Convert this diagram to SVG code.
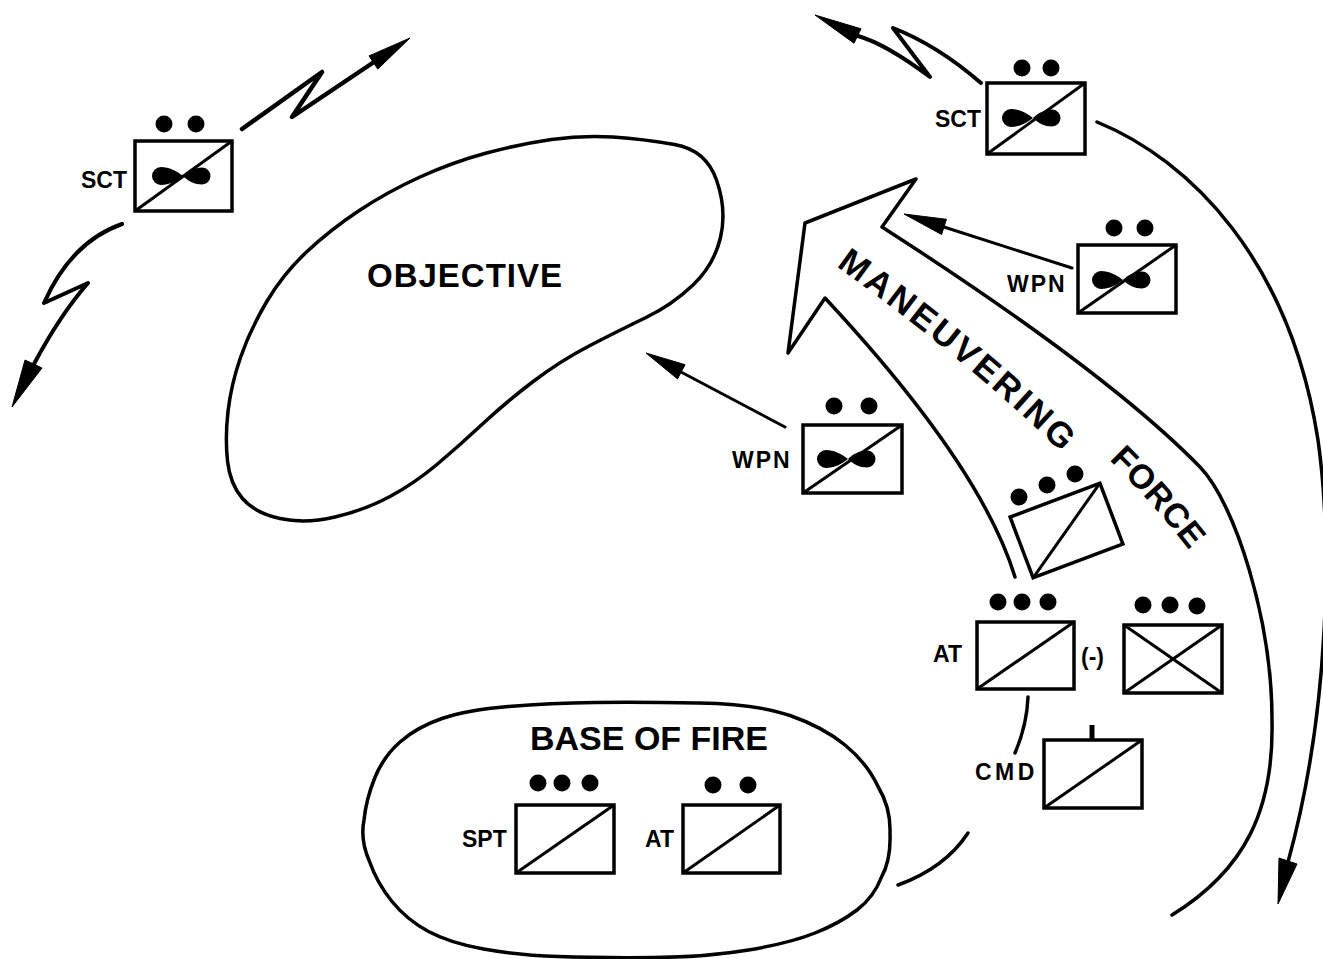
<svg xmlns="http://www.w3.org/2000/svg" xmlns:xlink="http://www.w3.org/1999/xlink" width="1323" height="959" viewBox="0 0 1323 959">
<style>
.ln{fill:none;stroke:#000;stroke-width:3.5;stroke-linecap:round;stroke-linejoin:round}
.bx{fill:#fff;stroke:#000;stroke-width:3.5;stroke-linejoin:miter}
.dg{stroke:#000;stroke-width:3;fill:none}
.hd{fill:#000;stroke:#000;stroke-width:1;stroke-linejoin:round}
.dot{fill:#000}
.lb{font-family:"Liberation Sans",Arial,sans-serif;font-weight:bold;font-size:23px;fill:#000}
.big{font-family:"Liberation Sans",Arial,sans-serif;font-weight:bold;font-size:33px;fill:#000}
</style>
<defs>
<path id="bt" d="M0,0 C-6,-5 -14,-9 -22,-9 A9,9 0 0 0 -22,9 C-14,9 -6,5 0,0 C5,-5 12,-8.5 19,-8.5 A8.5,8.5 0 0 1 19,8.5 C12,8.5 5,5 0,0 Z" fill="#000"/>
<path id="tp1" d="M836,266 Q965,359 1058,449"/>
<path id="tp2" d="M1109,460 Q1150,500 1190,551"/>
</defs>
<rect width="1323" height="959" fill="#fff"/>

<g id="connectors">
<path class="ln" d="M242,129 L322,72 L292,117 L374,62" style="stroke-width:4.5"/>
<polygon class="hd" points="410,38 377.8,69.1 369,55.9"/>
<path class="ln" d="M122,224 Q71,242 44,303 L88,283 Q60,315 34,364" style="stroke-width:4"/>
<polygon class="hd" points="12,407 25,360 42,368"/>
<path class="ln" d="M981,83 Q937,45 893,28 L930,77 Q886,44 858,36" style="stroke-width:4"/>
<polygon class="hd" points="815,15 861,28.8 854,43.2"/>
<path class="ln" d="M1097,122 C1190,160 1290,260 1318,440 C1332,540 1330,710 1288,862"/>
<polygon class="hd" points="1278,904 1279,858 1297,864"/>
<path class="ln" d="M1072,268 L944,227" style="stroke-width:3"/>
<polygon class="hd" points="904,214 946.4,219.3 941.6,234.5"/>
<path class="ln" d="M785,427 L681,372" style="stroke-width:3"/>
<polygon class="hd" points="646,353 685.1,364.7 677.5,378.9"/>
<path class="ln" d="M1015,577 C990,495 920,400 825,298 L788,353 L805,223 L916,179 L882,227 C980,290 1120,385 1200,467 C1235,503 1272,620 1272,720 C1274,810 1245,870 1172,915"/>
<path class="ln" d="M968,833 Q945,868 898,885"/>
<path class="ln" d="M1028,697 Q1027,725 1015,753"/>
</g>

<g id="objective">
<path class="ln" d="M613,137 Q643,139 674.5,144.5 Q706,150 716.5,180 Q727,210 720.5,237.5 Q714,265 693,285 Q672,305 646,317.5 Q620,330 590,345.5 Q560,361 532.5,382 Q505,403 482.5,424 Q460,445 437.5,464 Q415,483 390,496.5 Q365,510 335,517 Q305,524 280,518.5 Q255,513 242.5,498.5 Q230,484 227.5,461 Q225,438 228,411.5 Q231,385 240.5,357.5 Q250,330 266.5,302 Q283,274 306.5,252 Q330,230 358.5,211 Q387,192 420,177 Q453,162 486.5,153 Q520,144 551.5,139.5 Q583,135 613,137 Z"/>
<text class="big" x="367" y="287" letter-spacing="1">OBJECTIVE</text>
</g>

<g id="base-of-fire">
<path class="ln" d="M508.5,706.5 Q550,703 595,702.5 Q640,702 698.5,703 Q757,704 790,715.5 Q823,727 845,745 Q867,763 878,786.5 Q891,808 890,833.5 Q891,860 881.5,877 Q874,897 857,910 Q840,923 815,933 Q790,943 748.5,950 Q707,957 653.5,957.5 Q600,958 558.5,956.5 Q517,955 483.5,949 Q450,943 428.5,931.5 Q407,920 392,901.5 Q377,883 369.5,861.5 Q360,840 364,820 Q366,800 374.5,778.5 Q383,757 400,742 Q417,727 442,718.5 Q467,710 508.5,706.5 Z"/>
<text class="big" x="530" y="750" style="font-size:34px">BASE OF FIRE</text>
</g>

<g id="maneuvering-force-label">
<text class="big" style="font-size:35px" letter-spacing="3"><textPath href="#tp1" xlink:href="#tp1">MANEUVERING</textPath></text>
<text class="big" style="font-size:34px" letter-spacing="0.5"><textPath href="#tp2" xlink:href="#tp2">FORCE</textPath></text>
</g>

<g id="sct-left">
<circle class="dot" cx="164" cy="124" r="8.5"/><circle class="dot" cx="196" cy="124" r="8.5"/>
<rect class="bx" x="135" y="141" width="97" height="70"/>
<line class="dg" x1="135" y1="211" x2="232" y2="141"/>
<use href="#bt" xlink:href="#bt" x="183" y="176"/>
<text class="lb" x="81" y="188">SCT</text>
</g>

<g id="sct-right">
<circle class="dot" cx="1022" cy="68" r="8.5"/><circle class="dot" cx="1051" cy="68" r="8.5"/>
<rect class="bx" x="987" y="83" width="98" height="71"/>
<line class="dg" x1="987" y1="154" x2="1085" y2="83"/>
<use href="#bt" xlink:href="#bt" x="1033" y="118"/>
<text class="lb" x="935" y="127">SCT</text>
</g>

<g id="wpn-right">
<circle class="dot" cx="1114" cy="228" r="8.5"/><circle class="dot" cx="1145" cy="228" r="8.5"/>
<rect class="bx" x="1078" y="245" width="98" height="68"/>
<line class="dg" x1="1078" y1="313" x2="1176" y2="245"/>
<use href="#bt" xlink:href="#bt" x="1123" y="280"/>
<text class="lb" x="1007" y="292" letter-spacing="2">WPN</text>
</g>

<g id="wpn-left">
<circle class="dot" cx="834" cy="406" r="8.5"/><circle class="dot" cx="869" cy="406" r="8.5"/>
<rect class="bx" x="803" y="425" width="99" height="68"/>
<line class="dg" x1="803" y1="493" x2="902" y2="425"/>
<use href="#bt" xlink:href="#bt" x="848" y="459"/>
<text class="lb" x="732" y="468" letter-spacing="2">WPN</text>
</g>

<g id="tilted-unit">
<circle class="dot" cx="1019" cy="497" r="8.5"/><circle class="dot" cx="1047" cy="485" r="8.5"/><circle class="dot" cx="1075" cy="474" r="8.5"/>
<g transform="translate(1066.5,530.5) rotate(-20.7)">
<rect class="bx" x="-48" y="-32.5" width="96" height="65"/>
<line class="dg" x1="-48" y1="32.5" x2="48" y2="-32.5"/>
</g>
</g>

<g id="at-maneuver">
<circle class="dot" cx="998" cy="602" r="8.5"/><circle class="dot" cx="1022" cy="602" r="8.5"/><circle class="dot" cx="1048" cy="602" r="8.5"/>
<rect class="bx" x="977" y="622" width="97" height="67"/>
<line class="dg" x1="977" y1="689" x2="1074" y2="622"/>
<text class="lb" x="933" y="662">AT</text>
<text class="lb" x="1081" y="665">(-)</text>
</g>

<g id="infantry">
<circle class="dot" cx="1143" cy="605" r="8.5"/><circle class="dot" cx="1170" cy="605" r="8.5"/><circle class="dot" cx="1197" cy="606" r="8.5"/>
<rect class="bx" x="1124" y="625" width="98" height="68"/>
<line class="dg" x1="1124" y1="693" x2="1222" y2="625"/>
<line class="dg" x1="1124" y1="625" x2="1222" y2="693"/>
</g>

<g id="cmd">
<line x1="1092" y1="725" x2="1092" y2="740" stroke="#000" stroke-width="5"/>
<rect class="bx" x="1044" y="740" width="98" height="68"/>
<line class="dg" x1="1044" y1="808" x2="1142" y2="740"/>
<text class="lb" x="975" y="780" letter-spacing="3.5">CMD</text>
</g>

<g id="spt">
<circle class="dot" cx="538" cy="783" r="8.5"/><circle class="dot" cx="562" cy="783" r="8.5"/><circle class="dot" cx="590" cy="783" r="8.5"/>
<rect class="bx" x="516" y="805" width="98" height="68"/>
<line class="dg" x1="516" y1="873" x2="614" y2="805"/>
<text class="lb" x="462" y="847">SPT</text>
</g>

<g id="at-base">
<circle class="dot" cx="713" cy="785" r="8.5"/><circle class="dot" cx="748" cy="785" r="8.5"/>
<rect class="bx" x="683" y="805" width="97" height="68"/>
<line class="dg" x1="683" y1="873" x2="780" y2="805"/>
<text class="lb" x="645" y="847">AT</text>
</g>
</svg>
